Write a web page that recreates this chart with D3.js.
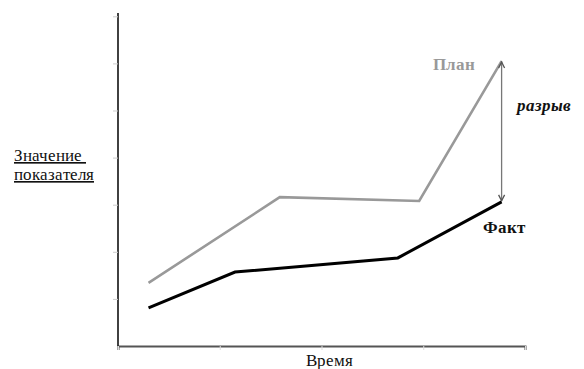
<!DOCTYPE html>
<html lang="ru">
<head>
<meta charset="utf-8">
<script src="https://cdn.jsdelivr.net/npm/d3@7"></script>
<style>
  body { margin: 0; background: #fff; }
  @font-face { font-family: "RuSerif"; font-weight: normal; font-style: normal;
    src: local("Liberation Serif"), local("LiberationSerif"), local("Tinos"), local("Times New Roman"); }
  @font-face { font-family: "RuSerif"; font-weight: bold; font-style: normal;
    src: local("Liberation Serif Bold"), local("LiberationSerif-Bold"), local("Tinos Bold"), local("Times New Roman Bold"); }
  @font-face { font-family: "RuSerif"; font-weight: bold; font-style: italic;
    src: local("Liberation Serif Bold Italic"), local("LiberationSerif-BoldItalic"), local("Tinos Bold Italic"), local("Times New Roman Bold Italic"); }
  .lbl { font-family: "RuSerif", "Liberation Serif", Tinos, "Times New Roman", serif; }
</style>
</head>
<body>
<div id="chart"></div>
<script>
// время (условные единицы) и значения показателя
var planT = [0.3, 1.59, 2.96, 3.77];
var planV = [1.34, 3.16, 3.08, 6.05];
var factT = [0.3, 1.15, 2.75, 3.77];
var factV = [0.81, 1.57, 1.87, 3.06];
var xTicks = [0, 1, 2, 3, 4];
var yTicks = [1, 2, 3, 4, 5, 6, 7];

var width = 584,
    height = 369;

var svg = d3.select("#chart")
    .append("svg")
    .attr("width", width)
    .attr("height", height);

var x = d3.scaleLinear().domain([0, 4]).range([118, 525]);
var y = d3.scaleLinear().domain([0, 7.07]).range([346, 13]);

// faint ticks
svg.append("g")
    .attr("transform", "translate(0," + y(0) + ")")
    .call(d3.axisBottom(x).tickValues(xTicks).tickSize(4).tickFormat(""))
    .call(function(g){
        g.select(".domain").attr("stroke", "#555").attr("stroke-width", 2);
        g.selectAll(".tick line").attr("stroke", "#ddd");
    });

svg.append("g")
    .attr("transform", "translate(" + x(0) + ",0)")
    .call(d3.axisLeft(y).tickValues(yTicks).tickSize(5).tickFormat(""))
    .call(function(g){
        g.select(".domain").attr("stroke", "#111").attr("stroke-width", 1.6).attr("d", "M0," + y(7.07) + "V" + y(0));
        g.selectAll(".tick line").attr("stroke", "#ccc");
    });

var line = d3.line()
    .x(function(d){ return x(d[0]); })
    .y(function(d){ return y(d[1]); });

svg.append("path")
    .datum(d3.zip(planT, planV))
    .attr("d", line)
    .attr("fill", "none")
    .attr("stroke", "#999")
    .attr("stroke-width", 2.6);

svg.append("path")
    .datum(d3.zip(factT, factV))
    .attr("d", line)
    .attr("fill", "none")
    .attr("stroke", "#000")
    .attr("stroke-width", 3);

// gap arrow
var gx = x(planT[3]),
    gTop = y(planV[3]),
    gBot = y(factV[3]);

svg.append("line")
    .attr("x1", gx).attr("x2", gx)
    .attr("y1", gTop + 1).attr("y2", gBot - 1)
    .attr("stroke", "#777")
    .attr("stroke-width", 1.3);

svg.append("path")
    .attr("d", "M" + (gx - 3) + "," + (gTop + 7) + "L" + gx + "," + (gTop + 1) + "L" + (gx + 3) + "," + (gTop + 7))
    .attr("fill", "none").attr("stroke", "#555").attr("stroke-width", 1.3);
svg.append("path")
    .attr("d", "M" + (gx - 3) + "," + (gBot - 7) + "L" + gx + "," + (gBot - 1) + "L" + (gx + 3) + "," + (gBot - 7))
    .attr("fill", "none").attr("stroke", "#555").attr("stroke-width", 1.3);

// labels
function label(t, px, py, opts) {
    opts = opts || {};
    var el = svg.append("text")
        .attr("class", "lbl")
        .attr("x", px).attr("y", py)
        .style("font-size", (opts.size || 16.5) + "px")
        .attr("fill", opts.fill || "#111")
        .text(t);
    if (opts.weight) el.style("font-weight", opts.weight);
    if (opts.style) el.style("font-style", opts.style);
    if (opts.anchor) el.attr("text-anchor", opts.anchor);
    if (opts.deco) el.style("text-decoration", opts.deco);
    return el;
}

label("Значение\u00a0", 14, 161, {deco: "underline"});
label("показателя", 14, 180, {deco: "underline"});
label("План", 433, 70, {size: 17, weight: "bold", fill: "#999"});
label("разрыв", 517, 111, {size: 17, weight: "bold", style: "italic"});
label("Факт", 483, 233, {size: 17, weight: "bold"});
label("Время", 329, 366, {anchor: "middle"});

if (document.fonts) {
    Promise.all([
        document.fonts.load("16.5px RuSerif", "Время"),
        document.fonts.load("bold 17px RuSerif", "План"),
        document.fonts.load("italic bold 17px RuSerif", "разрыв")
    ]).then(function(){
        svg.selectAll(".lbl").style("opacity", 1);
    });
}
</script>
</body>
</html>
